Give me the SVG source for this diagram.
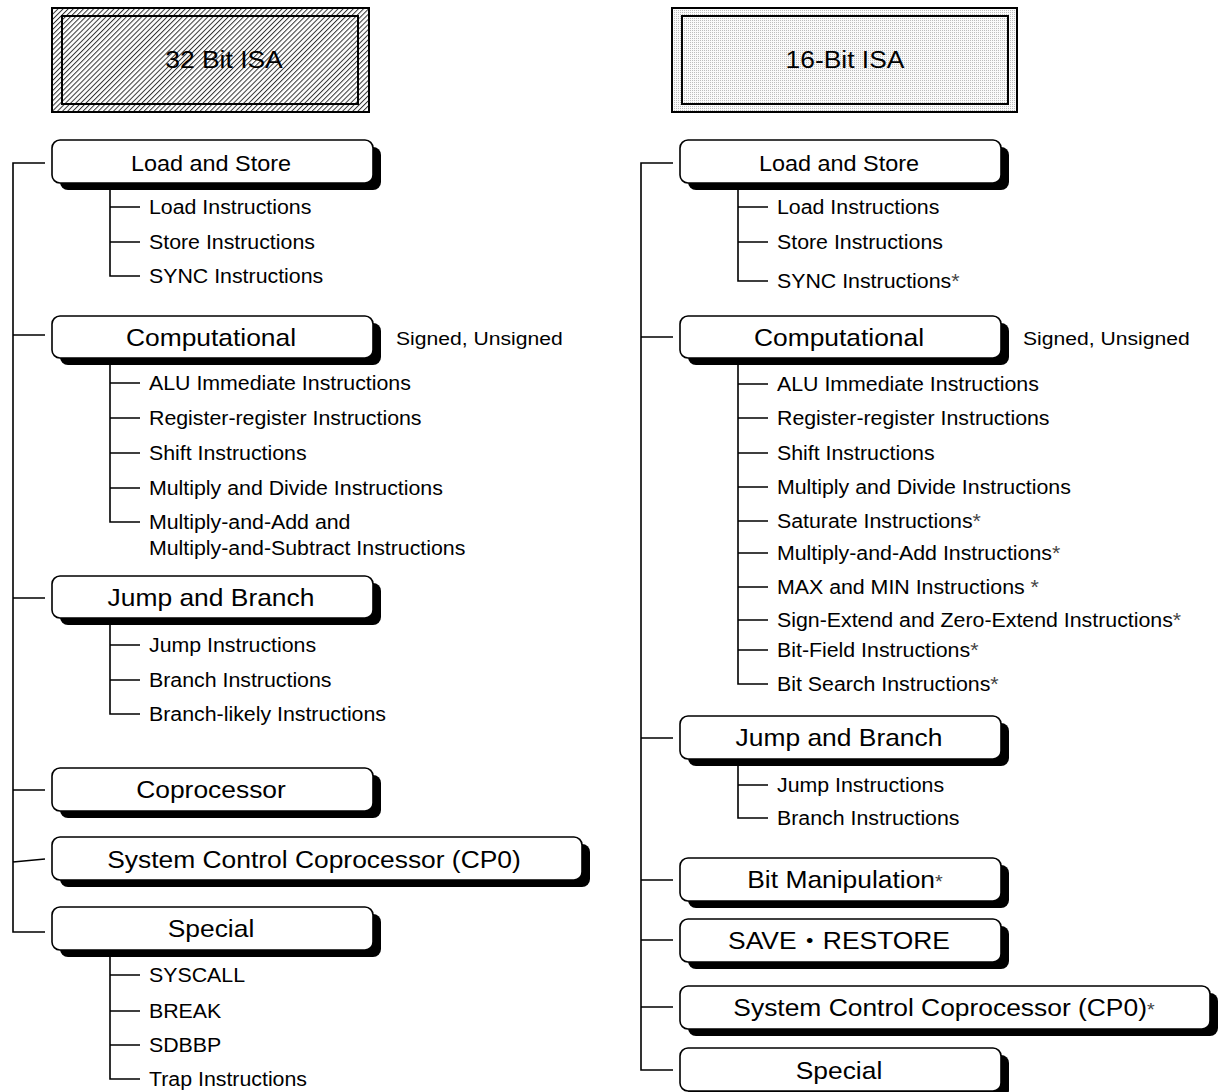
<svg xmlns="http://www.w3.org/2000/svg" width="1221" height="1092" viewBox="0 0 1221 1092">
  <style>
    text { font-family: "Liberation Sans", "Noto Sans CJK JP", Arial, sans-serif; fill: #000; }
    .hdr { font-size: 24px; text-anchor: middle; }
    .lbl { font-size: 24px; text-anchor: middle; }
    .lbl.sm { font-size: 21.3px; }
    .item { font-size: 19.4px; }
    .note { font-size: 19.2px; }
    .ast { fill: #444; }
    .box { fill: #fff; stroke: #000; stroke-width: 1.6; }
    .shadow { fill: #000; }
    .frame { stroke: #000; stroke-width: 2; }
    .conn { fill: none; stroke: #000; stroke-width: 1.6; }
  </style>
  <defs>
    <!-- diagonal hatch for the 32-bit header -->
    <pattern id="hatch" patternUnits="userSpaceOnUse" width="3.6" height="3.6" patternTransform="rotate(45)">
      <rect width="3.6" height="3.6" fill="#fff"/>
      <rect x="0" y="0" width="1" height="3.6" fill="#333"/>
    </pattern>
    <!-- fine stipple for the 16-bit header -->
    <pattern id="stipple" patternUnits="userSpaceOnUse" width="2" height="2">
      <rect width="2" height="2" fill="#fafafa"/>
      <rect x="0" y="0" width="1" height="1" fill="#bdbdbd"/>
    </pattern>
  </defs>

  <!-- ===== connectors ===== -->
  <g id="connectors" class="conn">
    <!-- 32-bit main trunk -->
    <path d="M45,163 H13 V932 H45 M13,335 H45 M13,598 H45 M13,790 H45 M13,862 L45,859"/>
    <!-- 32-bit sub trees -->
    <path d="M110,190 V276 H140 M110,207 H140 M110,242 H140"/>
    <path d="M110,365 V522 H140 M110,383 H140 M110,418 H140 M110,453 H140 M110,488 H140"/>
    <path d="M110,625 V714 H140 M110,645 H140 M110,680 H140"/>
    <path d="M110,956 V1079 H140 M110,975 H140 M110,1011 H140 M110,1045 H140"/>
    <!-- 16-bit main trunk -->
    <path d="M673,163 H641 V1070 H673 M641,337 H673 M641,738 H673 M641,880 H673 M641,940 H673 M641,1007 H673"/>
    <!-- 16-bit sub trees -->
    <path d="M738,190 V281 H768 M738,207 H768 M738,242 H768"/>
    <path d="M738,365 V684 H768 M738,384 H768 M738,418 H768 M738,453 H768 M738,487 H768 M738,521 H768 M738,553 H768 M738,587 H768 M738,620 H768 M738,650 H768"/>
    <path d="M738,765 V818 H768 M738,785 H768"/>
  </g>

  <!-- ===== 32-bit ISA column ===== -->
  <g id="isa32">
    <rect class="frame" x="52" y="8" width="317" height="104" fill="url(#hatch)"/>
    <rect class="frame" x="62" y="16" width="296" height="88" fill="none"/>
    <text class="hdr" transform="translate(224,68) scale(1.1,1)">32 Bit ISA</text>
  </g>

  <g id="l32-load-store">
    <rect class="shadow" x="60" y="147" width="321" height="43" rx="8"/>
    <rect class="box" x="52" y="140" width="321" height="43" rx="8"/>
    <text class="lbl sm" transform="translate(211,171) scale(1.1,1)">Load and Store</text>
  </g>
  <g id="l32-load-store-items" class="item">
    <text transform="translate(149,214) scale(1.1,1)">Load Instructions</text>
    <text transform="translate(149,249) scale(1.1,1)">Store Instructions</text>
    <text transform="translate(149,283) scale(1.1,1)">SYNC Instructions</text>
  </g>

  <g id="l32-computational">
    <rect class="shadow" x="60" y="323" width="321" height="42" rx="8"/>
    <rect class="box" x="52" y="316" width="321" height="42" rx="8"/>
    <text class="lbl" transform="translate(211,346) scale(1.1,1)">Computational</text>
    <text class="note" transform="translate(396,345) scale(1.1,1)">Signed, Unsigned</text>
  </g>
  <g id="l32-computational-items" class="item">
    <text transform="translate(149,390) scale(1.1,1)">ALU Immediate Instructions</text>
    <text transform="translate(149,425) scale(1.1,1)">Register-register Instructions</text>
    <text transform="translate(149,460) scale(1.1,1)">Shift Instructions</text>
    <text transform="translate(149,495) scale(1.1,1)">Multiply and Divide Instructions</text>
    <text transform="translate(149,529) scale(1.1,1)">Multiply-and-Add and</text>
    <text transform="translate(149,555) scale(1.1,1)">Multiply-and-Subtract Instructions</text>
  </g>

  <g id="l32-jump-branch">
    <rect class="shadow" x="60" y="583" width="321" height="42" rx="8"/>
    <rect class="box" x="52" y="576" width="321" height="42" rx="8"/>
    <text class="lbl" transform="translate(211,606) scale(1.1,1)">Jump and Branch</text>
  </g>
  <g id="l32-jump-branch-items" class="item">
    <text transform="translate(149,652) scale(1.1,1)">Jump Instructions</text>
    <text transform="translate(149,687) scale(1.1,1)">Branch Instructions</text>
    <text transform="translate(149,721) scale(1.1,1)">Branch-likely Instructions</text>
  </g>

  <g id="l32-coprocessor">
    <rect class="shadow" x="60" y="775" width="321" height="43" rx="8"/>
    <rect class="box" x="52" y="768" width="321" height="43" rx="8"/>
    <text class="lbl" transform="translate(211,798) scale(1.1,1)">Coprocessor</text>
  </g>

  <g id="l32-cp0">
    <rect class="shadow" x="60" y="844" width="530" height="43" rx="8"/>
    <rect class="box" x="52" y="837" width="530" height="43" rx="8"/>
    <text class="lbl" transform="translate(314,868) scale(1.1,1)">System Control Coprocessor (CP0)</text>
  </g>

  <g id="l32-special">
    <rect class="shadow" x="60" y="914" width="321" height="43" rx="8"/>
    <rect class="box" x="52" y="907" width="321" height="43" rx="8"/>
    <text class="lbl" transform="translate(211,937) scale(1.1,1)">Special</text>
  </g>
  <g id="l32-special-items" class="item">
    <text transform="translate(149,982) scale(1.1,1)">SYSCALL</text>
    <text transform="translate(149,1018) scale(1.1,1)">BREAK</text>
    <text transform="translate(149,1052) scale(1.1,1)">SDBBP</text>
    <text transform="translate(149,1086) scale(1.1,1)">Trap Instructions</text>
  </g>

  <!-- ===== 16-bit ISA column ===== -->
  <g id="isa16">
    <rect class="frame" x="672" y="8" width="345" height="104" fill="url(#stipple)"/>
    <rect class="frame" x="682" y="16" width="326" height="88" fill="none"/>
    <text class="hdr" transform="translate(845,68) scale(1.1,1)">16-Bit ISA</text>
  </g>

  <g id="r16-load-store">
    <rect class="shadow" x="688" y="147" width="321" height="43" rx="8"/>
    <rect class="box" x="680" y="140" width="321" height="43" rx="8"/>
    <text class="lbl sm" transform="translate(839,171) scale(1.1,1)">Load and Store</text>
  </g>
  <g id="r16-load-store-items" class="item">
    <text transform="translate(777,214) scale(1.1,1)">Load Instructions</text>
    <text transform="translate(777,249) scale(1.1,1)">Store Instructions</text>
    <text transform="translate(777,288) scale(1.1,1)">SYNC Instructions<tspan class="ast">*</tspan></text>
  </g>

  <g id="r16-computational">
    <rect class="shadow" x="688" y="323" width="321" height="42" rx="8"/>
    <rect class="box" x="680" y="316" width="321" height="42" rx="8"/>
    <text class="lbl" transform="translate(839,346) scale(1.1,1)">Computational</text>
    <text class="note" transform="translate(1023,345) scale(1.1,1)">Signed, Unsigned</text>
  </g>
  <g id="r16-computational-items" class="item">
    <text transform="translate(777,391) scale(1.1,1)">ALU Immediate Instructions</text>
    <text transform="translate(777,425) scale(1.1,1)">Register-register Instructions</text>
    <text transform="translate(777,460) scale(1.1,1)">Shift Instructions</text>
    <text transform="translate(777,494) scale(1.1,1)">Multiply and Divide Instructions</text>
    <text transform="translate(777,528) scale(1.1,1)">Saturate Instructions<tspan class="ast">*</tspan></text>
    <text transform="translate(777,560) scale(1.1,1)">Multiply-and-Add Instructions<tspan class="ast">*</tspan></text>
    <text transform="translate(777,594) scale(1.1,1)">MAX and MIN Instructions <tspan class="ast">*</tspan></text>
    <text transform="translate(777,627) scale(1.1,1)">Sign-Extend and Zero-Extend Instructions<tspan class="ast">*</tspan></text>
    <text transform="translate(777,657) scale(1.1,1)">Bit-Field Instructions<tspan class="ast">*</tspan></text>
    <text transform="translate(777,691) scale(1.1,1)">Bit Search Instructions<tspan class="ast">*</tspan></text>
  </g>

  <g id="r16-jump-branch">
    <rect class="shadow" x="688" y="723" width="321" height="43" rx="8"/>
    <rect class="box" x="680" y="716" width="321" height="43" rx="8"/>
    <text class="lbl" transform="translate(839,746) scale(1.1,1)">Jump and Branch</text>
  </g>
  <g id="r16-jump-branch-items" class="item">
    <text transform="translate(777,792) scale(1.1,1)">Jump Instructions</text>
    <text transform="translate(777,825) scale(1.1,1)">Branch Instructions</text>
  </g>

  <g id="r16-bit-manipulation">
    <rect class="shadow" x="688" y="865" width="321" height="43" rx="8"/>
    <rect class="box" x="680" y="858" width="321" height="43" rx="8"/>
    <text class="lbl" transform="translate(845,888) scale(1.1,1)">Bit Manipulation<tspan class="ast" font-size="18px">*</tspan></text>
  </g>

  <g id="r16-save-restore">
    <rect class="shadow" x="688" y="926" width="321" height="43" rx="8"/>
    <rect class="box" x="680" y="919" width="321" height="43" rx="8"/>
    <text class="lbl" transform="translate(839,949) scale(1.1,1)">SAVE・RESTORE</text>
  </g>

  <g id="r16-cp0">
    <rect class="shadow" x="688" y="993" width="530" height="43" rx="8"/>
    <rect class="box" x="680" y="986" width="530" height="43" rx="8"/>
    <text class="lbl" transform="translate(944,1016) scale(1.1,1)">System Control Coprocessor (CP0)<tspan class="ast" font-size="18px">*</tspan></text>
  </g>

  <g id="r16-special">
    <rect class="shadow" x="688" y="1055" width="321" height="43" rx="8"/>
    <rect class="box" x="680" y="1048" width="321" height="43" rx="8"/>
    <text class="lbl" transform="translate(839,1079) scale(1.1,1)">Special</text>
  </g>
</svg>
